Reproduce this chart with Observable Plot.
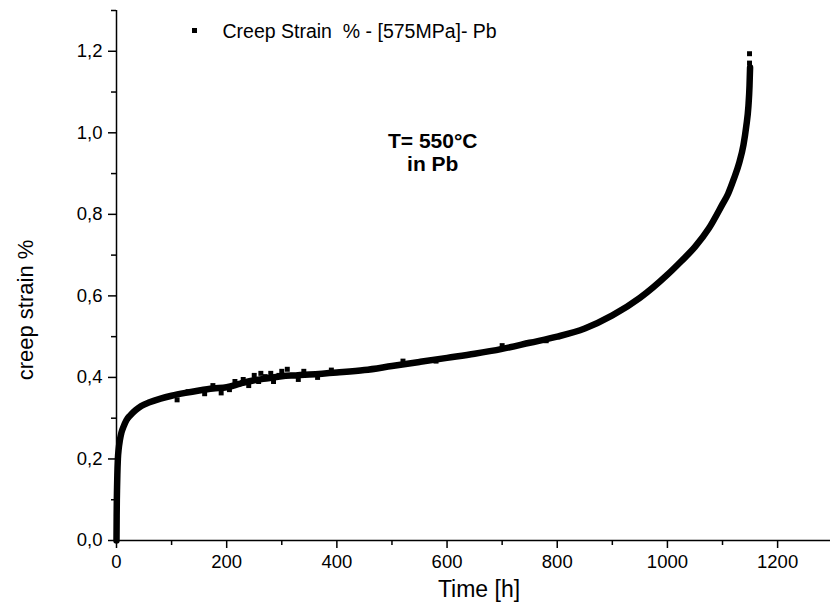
<!DOCTYPE html>
<html>
<head>
<meta charset="utf-8">
<script src="https://cdn.jsdelivr.net/npm/d3@7"></script>
<script src="https://cdn.jsdelivr.net/npm/@observablehq/plot@0.6"></script>
<style>
  html, body { margin: 0; padding: 0; background: #fff; }
  #wrap { position: relative; width: 830px; height: 604px; font-family: "Liberation Sans", Arial, sans-serif; }
  #legend { position: absolute; left: 192px; top: 20px; font-size: 19.5px; line-height: 1.15; color: #000; white-space: pre; }
  #legend .sym { display: inline-block; width: 5px; height: 5px; background: #000; vertical-align: middle; margin-right: 25.5px; position: relative; top: -2px; }
  #ylabel { position: absolute; left: 26px; top: 310px; transform: translate(-50%, -50%) rotate(-90deg); font-size: 22px; white-space: pre; }
  #xlabel { position: absolute; left: 479px; top: 589px; transform: translate(-50%, -50%); font-size: 23px; white-space: pre; }
</style>
</head>
<body>
<div id="wrap">
  <div id="chart"></div>
  <div id="legend"><span class="sym"></span>Creep Strain  % - [575MPa]- Pb</div>
  <div id="ylabel">creep strain %</div>
  <div id="xlabel">Time [h]</div>
</div>
<script>
// Time [h]
const time = [0, 0.3, 0.6, 1, 1.5, 2.5, 4, 6, 9, 13, 18, 25, 35, 45, 60, 80, 100, 125, 150, 175, 200, 225, 250, 275, 300, 325, 350, 400, 450, 500, 550, 600, 650, 700, 750, 800, 850, 900, 950, 1000, 1025, 1050, 1075, 1100, 1110, 1120, 1130, 1138, 1143, 1147, 1149, 1150];
// creep strain %
const strain = [0, 0.06, 0.10, 0.13, 0.16, 0.20, 0.225, 0.245, 0.265, 0.28, 0.295, 0.307, 0.32, 0.33, 0.339, 0.348, 0.355, 0.362, 0.368, 0.373, 0.376, 0.385, 0.393, 0.398, 0.403, 0.405, 0.407, 0.412, 0.418, 0.428, 0.438, 0.448, 0.458, 0.47, 0.485, 0.50, 0.52, 0.552, 0.595, 0.652, 0.685, 0.72, 0.765, 0.825, 0.85, 0.885, 0.925, 0.97, 1.015, 1.065, 1.115, 1.16];
// scattered outlying readings
const noiseTime = [110, 130, 160, 175, 190, 205, 215, 230, 240, 250, 258, 262, 270, 280, 285, 295, 300, 310, 320, 330, 340, 365, 390, 520, 580, 700, 780, 1149, 1149];
const noiseStrain = [0.345, 0.365, 0.36, 0.38, 0.362, 0.37, 0.39, 0.395, 0.38, 0.405, 0.39, 0.41, 0.402, 0.41, 0.39, 0.405, 0.415, 0.42, 0.405, 0.395, 0.415, 0.40, 0.418, 0.44, 0.44, 0.478, 0.49, 1.171, 1.194];

const xMajor = [0, 200, 400, 600, 800, 1000, 1200];
const xMinor = [100, 300, 500, 700, 900, 1100];
const yMajor = [0, 0.2, 0.4, 0.6, 0.8, 1.0, 1.2];
const yMinor = [0.1, 0.3, 0.5, 0.7, 0.9, 1.1, 1.3];

const annotation = [{t: 574, v: 0.952, text: "T= 550°C\nin Pb"}];

const series = time.map((t, i) => ({t, v: strain[i]}));
const noise = noiseTime.map((t, i) => ({t, v: noiseStrain[i]}));

const fmtY = d => d.toFixed(1).replace(".", ",");
const fmtX = d => String(d);

const chart = Plot.plot({
  width: 830,
  height: 604,
  marginLeft: 116,
  marginRight: 0,
  marginTop: 10,
  marginBottom: 64,
  style: {fontFamily: "Liberation Sans, Arial, sans-serif", color: "#000", background: "#fff"},
  x: {domain: [0, 1296]},
  y: {domain: [0, 1.3]},
  marks: [
    Plot.axisX(xMajor, {tickSize: 8, tickPadding: 6, fontSize: 18.5, strokeWidth: 1.5, tickFormat: fmtX, label: null}),
    Plot.axisX(xMinor, {tickSize: 5, tickFormat: () => "", strokeWidth: 1.5, label: null}),
    Plot.axisY(yMajor, {tickSize: 8, tickPadding: 6, fontSize: 18.5, strokeWidth: 1.5, tickFormat: fmtY, label: null}),
    Plot.axisY(yMinor, {tickSize: 5, tickFormat: () => "", strokeWidth: 1.5, label: null}),
    Plot.ruleY([0], {strokeWidth: 1.5}),
    Plot.ruleX([0], {strokeWidth: 1.5}),
    Plot.line(series, {x: "t", y: "v", stroke: "#000", strokeWidth: 6.5, curve: "monotone-x"}),
    Plot.dot(noise, {x: "t", y: "v", symbol: "square", r: 2.8, fill: "#000"}),
    Plot.text(annotation, {x: "t", y: "v", text: "text", fontSize: 21, fontWeight: "bold", lineHeight: 1.08, textAnchor: "middle"})
  ]
});
document.getElementById("chart").appendChild(chart);
</script>
</body>
</html>
